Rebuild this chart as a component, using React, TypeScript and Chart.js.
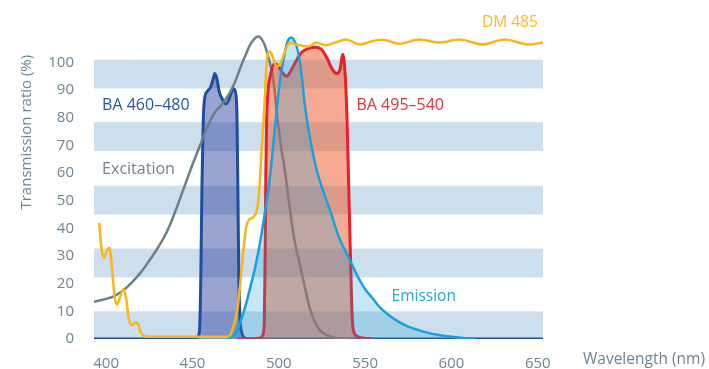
import React, { useEffect, useRef } from "react";
import { Chart, registerables } from "chart.js";

Chart.register(...registerables);

// ---- data (wavelength nm, transmission %) ----
const wavelengthTicks = [400, 450, 500, 550, 600, 650];
const ratioTicks = [0, 10, 20, 30, 40, 50, 60, 70, 80, 90, 100];
const bandRanges: [number, number][] = [
  [0, 10], [22.3, 32.7], [45, 55.4], [68, 78.4], [90.6, 101],
];

const ba460: [number, number][] = [
  [393, 0], [450, 0], [452.5, 0.4], [454, 2.5], [454.8, 20], [455.5, 55], [456.3, 80],
  [457.2, 87.5], [458.5, 89.5], [460.5, 91], [462, 94], [463, 96], [464.2, 94],
  [465.5, 89.5], [467.5, 86.5], [469.5, 85], [471, 86.5], [472.5, 89], [473.8, 90.5],
  [475, 89], [475.8, 80], [476.3, 55], [476.8, 25], [477.5, 8], [478.5, 2.5],
  [480, 0.5], [482, 0], [653, 0],
];

const excitation: [number, number][] = [
  [393, 13.5], [400, 14.5], [405, 15.6], [410, 17.6], [415, 20.5], [420, 24],
  [425, 28.3], [430, 33], [435, 38.5], [440, 46], [445, 54.5], [450, 63],
  [455, 71], [460, 78.5], [463, 82], [466, 84], [469, 86.5], [472, 89.5],
  [475, 93.5], [478, 98.5], [481, 103], [484, 107], [488, 109.4], [491, 107.5],
  [493.5, 103], [496.5, 95], [499, 81], [501, 71], [503.5, 61], [506, 49],
  [509, 36], [512, 27.5], [515, 19], [518, 11], [521, 6], [524, 3], [528, 1.3],
  [533, 0.4], [540, 0],
];

const ba495: [number, number][] = [
  [476, 0], [489, 0.3], [490.8, 1.5], [491.6, 6], [492.1, 30], [492.5, 60],
  [493, 80], [493.8, 90], [495, 95], [497.5, 99.5], [499.5, 99], [502, 96.5],
  [504.5, 95], [507, 97], [510, 100.5], [513, 103.5], [517, 105], [521, 105.5],
  [525, 104.5], [528, 101.5], [531, 97.5], [533.5, 96], [535.5, 97.5], [537, 103],
  [538.5, 95], [539.5, 80], [540.5, 55], [541.5, 30], [542.5, 8], [543.5, 2.5],
  [546, 0.8], [550, 0.2], [554, 0],
];

const emission: [number, number][] = [
  [470, 0], [474, 1.5], [476.5, 4], [478.5, 7.5], [481, 12.5], [483, 17.5],
  [486, 25], [488, 31], [490, 38], [492, 46], [494.8, 58], [497.7, 76],
  [500.6, 93], [502.3, 99.6], [504, 105], [505.5, 108.2], [507.5, 109],
  [509, 107.8], [510.5, 105.5], [512, 101], [513.3, 95], [515, 85], [518, 73],
  [522, 61], [526, 53], [530, 46], [535, 36.5], [540, 30], [542, 27.5],
  [545, 23.5], [550, 18], [554, 15], [558, 11.8], [564, 8.5], [570, 6],
  [575, 4.5], [580, 3.4], [586, 2.3], [592, 1.5], [600, 0.8], [608, 0.3], [614, 0],
];

const dm485: [number, number][] = [
  [396, 42], [397.5, 32], [399, 29.5], [400.5, 32], [402, 33], [403.5, 25],
  [405, 15], [406.5, 12.5], [408, 15], [410, 18], [411.5, 15], [413, 8],
  [415, 5], [417, 6], [418.5, 5.5], [420, 2.5], [422, 1], [425, 0.8],
  [470, 0.8], [472, 1.5], [474, 5], [476, 10.5], [478, 22], [479.5, 32],
  [481, 40], [482.5, 43], [485, 44], [487, 46], [488.5, 52], [490, 68],
  [491.5, 82], [493, 100], [494.8, 104], [496.5, 102], [498.8, 98.5],
  [501.5, 100.4], [503.5, 104], [506.4, 107], [510, 106.5], [514, 106],
  [517, 105.8], [522, 107.2], [527, 106.2], [533, 107.3], [539, 108.3],
  [547, 106.5], [553, 107.5], [560, 108.2], [570, 106.8], [581, 108.3],
  [593, 107.2], [604.6, 108.3], [618, 106.5], [630.6, 108.3], [645, 106.5],
  [653, 107.2],
];

const labels = [
  { text: "BA 460\u2013480", wl: 397.7, v: 84.5, color: "#2357a7", size: 16, align: "left" },
  { text: "Excitation", wl: 397.7, v: 61.2, color: "#6e8592", size: 16, align: "left" },
  { text: "DM 485", wl: 650, v: 114.4, color: "#fbb82a", size: 15.5, align: "right" },
  { text: "BA 495\u2013540", wl: 545, v: 84.5, color: "#e8323c", size: 16, align: "left" },
  { text: "Emission", wl: 565.3, v: 15.5, color: "#25a6df", size: 15.5, align: "left" },
];

const FONT = '"Open Sans", "Noto Sans", sans-serif';
const GREY = "#6e8592";

const toPts = (a: [number, number][]) => a.map(([x, y]) => ({ x, y }));

const bandsPlugin = {
  id: "bands",
  beforeDatasetsDraw(chart: any) {
    const { ctx, chartArea, scales } = chart;
    const y = scales.y;
    ctx.save();
    ctx.fillStyle = "#cddfed";
    bandRanges.forEach(([a, b]) => {
      const top = y.getPixelForValue(b);
      const bot = y.getPixelForValue(a);
      ctx.fillRect(chartArea.left, top, chartArea.right - chartArea.left, bot - top);
    });
    ctx.restore();
  },
};

const textPlugin = {
  id: "texts",
  afterDraw(chart: any) {
    const { ctx, chartArea, scales } = chart;
    const { x, y } = scales;
    ctx.save();
    ctx.textBaseline = "middle";
    labels.forEach((l) => {
      ctx.font = `${l.size}px ${FONT}`;
      ctx.fillStyle = l.color;
      ctx.textAlign = l.align as CanvasTextAlign;
      ctx.fillText(l.text, x.getPixelForValue(l.wl), y.getPixelForValue(l.v));
    });
    // x axis title
    ctx.font = `15.5px ${FONT}`;
    ctx.fillStyle = GREY;
    ctx.textAlign = "left";
    ctx.fillText("Wavelength (nm)", chartArea.right + 40, chartArea.bottom + 21);
    // y axis title
    ctx.translate(chartArea.left - 67, y.getPixelForValue(74.8));
    ctx.rotate(-Math.PI / 2);
    ctx.textAlign = "center";
    ctx.font = `15px ${FONT}`;
    ctx.fillText("Transmission ratio (%)", 0, 0);
    ctx.restore();
  },
};

export default function App() {
  const ref = useRef<HTMLCanvasElement | null>(null);
  useEffect(() => {
    if (!ref.current) return;
    const common = { pointRadius: 0, cubicInterpolationMode: "monotone" as const };
    const chart = new Chart(ref.current, {
      type: "line",
      data: {
        datasets: [
          {
            label: "DM 485", data: toPts(dm485), borderColor: "#fab619", borderWidth: 2.5,
            fill: false, order: 2, ...common,
          },
          {
            label: "Emission", data: toPts(emission), borderColor: "#1ba0dc", borderWidth: 2.5,
            backgroundColor: "rgba(26,160,220,0.25)", fill: "origin", order: 3, ...common,
          },
          {
            label: "BA 495-540", data: toPts(ba495), borderColor: "#e8202a", borderWidth: 3,
            backgroundColor: "rgba(238,85,35,0.5)", fill: "origin", order: 4, ...common,
          },
          {
            label: "Excitation", data: toPts(excitation), borderColor: "#6a808c", borderWidth: 2.5,
            fill: false, order: 5, pointRadius: 0, tension: 0.4,
          },
          {
            label: "BA 460-480", data: toPts(ba460), borderColor: "#1d4f9f", borderWidth: 3,
            backgroundColor: "rgba(33,51,151,0.45)", fill: "origin", order: 6, ...common,
          },
        ],
      },
      options: {
        responsive: false,
        animation: false,
        layout: { padding: { top: 19, right: 166, left: 0, bottom: 0 } },
        plugins: { legend: { display: false }, tooltip: { enabled: false } },
        scales: {
          x: {
            type: "linear",
            min: 393,
            max: 653,
            grid: { display: false },
            border: { display: false },
            afterBuildTicks: (s: any) => { s.ticks = wavelengthTicks.map((v) => ({ value: v })); },
            afterFit: (s: any) => { s.height = 30; },
            ticks: {
              color: GREY, font: { family: FONT, size: 15 }, padding: 8,
              maxRotation: 0, autoSkip: false,
              callback: (v: any) => String(v),
            },
          },
          y: {
            type: "linear",
            min: 0,
            max: 115,
            grid: { display: false },
            border: { display: false },
            afterBuildTicks: (s: any) => { s.ticks = ratioTicks.map((v) => ({ value: v })); },
            afterFit: (s: any) => { s.width = 94; },
            ticks: {
              color: GREY, font: { family: FONT, size: 15 }, padding: 12, autoSkip: false,
              callback: (v: any) => String(v),
            },
          },
        },
      },
      plugins: [bandsPlugin, textPlugin],
    });
    return () => chart.destroy();
  }, []);
  return (
    <div style={{ position: "fixed", left: 0, top: 0, width: 709, height: 369, background: "#fff" }}>
      <canvas ref={ref} width={709} height={369} style={{ display: "block" }} />
    </div>
  );
}
